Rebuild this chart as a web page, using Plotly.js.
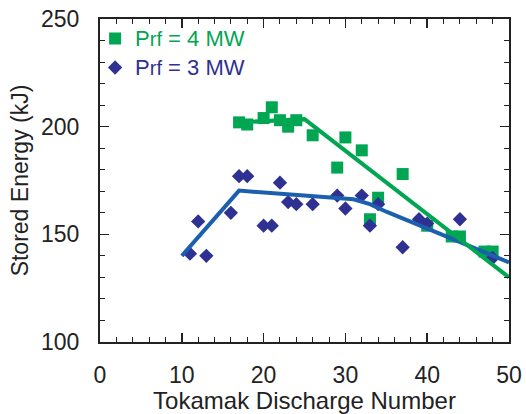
<!DOCTYPE html>
<html>
<head>
<meta charset="utf-8">
<script src="https://cdn.plot.ly/plotly-3.0.1.min.js"></script>
<style>
  html, body { margin: 0; padding: 0; background: #ffffff; }
  #chart { width: 526px; height: 414px; }
</style>
</head>
<body>
<div id="chart"></div>
<script>
// Stored energy per discharge, two RF power levels
const shots4MW = [17, 18, 20, 21, 22, 23, 24, 26, 29, 30, 32, 33, 34, 37, 40, 43, 44, 47, 48];
const energy4MW = [202, 201, 204, 209, 203, 200, 203, 196, 181, 195, 189, 157, 167, 178, 154, 149, 149, 142, 142];

const shots3MW = [11, 12, 13, 16, 17, 18, 20, 21, 22, 23, 24, 26, 29, 30, 32, 33, 34, 37, 39, 40, 44, 48];
const energy3MW = [141, 156, 140, 160, 177, 177, 154, 154, 174, 165, 164, 164, 168, 162, 168, 154, 164, 144, 157, 155, 157, 139];

// Trend lines through each set
const trend4x = [17, 25, 50];
const trend4y = [202, 203.5, 130];
const trend3x = [10, 17, 31, 33, 35, 50];
const trend3y = [140, 170.3, 166.3, 164, 160.5, 137];

const green = '#00a651';
const navy = '#2e3192';
const blueLine = '#1b5fae';
const ink = '#222222';
const fontFamily = 'Liberation Sans, Arial, Helvetica, sans-serif';

function legendLabel(color, power) {
  return '<span style="color:' + color + ';font-size:22px">P</span>' +
         '<span style="color:' + color + ';font-size:20px">rf</span>' +
         '<span style="color:' + color + ';font-size:22px"> = ' + power + ' MW</span>';
}

const traces = [
  {
    x: shots4MW, y: energy4MW, type: 'scatter', mode: 'markers',
    name: legendLabel(green, 4),
    marker: { symbol: 'square', size: 12, color: green }
  },
  {
    x: shots3MW, y: energy3MW, type: 'scatter', mode: 'markers',
    name: legendLabel(navy, 3),
    marker: { symbol: 'diamond', size: 11, color: navy }
  },
  {
    x: trend3x, y: trend3y, type: 'scatter', mode: 'lines',
    line: { color: blueLine, width: 4 }, showlegend: false, hoverinfo: 'skip'
  },
  {
    x: trend4x, y: trend4y, type: 'scatter', mode: 'lines',
    line: { color: green, width: 4 }, showlegend: false, hoverinfo: 'skip'
  }
];

const axisCommon = {
  showline: true, linecolor: ink, linewidth: 2, mirror: 'allticks',
  ticks: 'inside', tickcolor: ink, tickwidth: 1.5, ticklen: 9,
  showgrid: false, zeroline: false,
  tickfont: { family: fontFamily, size: 23, color: ink }
};

const layout = {
  width: 526, height: 414,
  margin: { l: 100, r: 17, t: 19, b: 72 },
  paper_bgcolor: '#ffffff', plot_bgcolor: '#ffffff',
  font: { family: fontFamily, color: ink },
  showlegend: true,
  legend: {
    x: -0.012, xanchor: 'left', y: 1.0, yanchor: 'top',
    bgcolor: 'rgba(0,0,0,0)', borderwidth: 0,
    font: { family: fontFamily, size: 20 },
    traceorder: 'normal', itemclick: false
  },
  xaxis: Object.assign({}, axisCommon, {
    range: [0, 50], tick0: 0, dtick: 10,
    minor: { dtick: 2, ticks: 'inside', ticklen: 5, tickwidth: 1, tickcolor: ink },
    ticklabelstandoff: 11,
    title: { text: 'Tokamak Discharge Number', font: { family: fontFamily, size: 24, color: ink }, standoff: 13 }
  }),
  yaxis: Object.assign({}, axisCommon, {
    range: [100, 250], tick0: 100, dtick: 50,
    minor: { dtick: 10, ticks: 'inside', ticklen: 5, tickwidth: 1, tickcolor: ink },
    ticklabelstandoff: 14,
    title: { text: 'Stored Energy (kJ)', font: { family: fontFamily, size: 23, color: ink }, standoff: 6 }
  })
};

Plotly.newPlot('chart', traces, layout, { displayModeBar: false, staticPlot: true });
</script>
</body>
</html>
